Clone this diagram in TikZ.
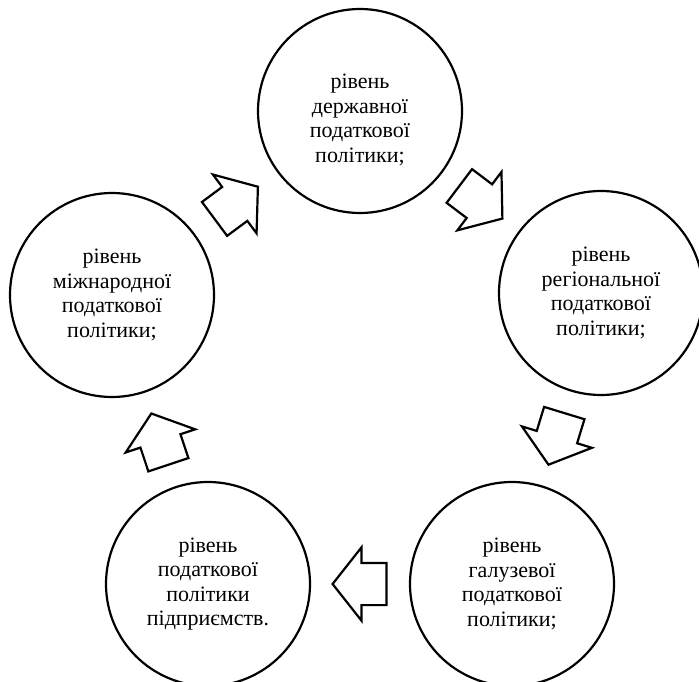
\documentclass[tikz,border=0pt]{standalone}
\usepackage{fontspec}
\setmainfont{Liberation Serif}
\usepackage{tikz}
\usetikzlibrary{shapes,shapes.arrows,calc,positioning}

\begin{document}
\begin{tikzpicture}[x=1pt, y=1pt]
            \tikzstyle{level} = [draw, circle, line width=2.2pt, minimum size=204pt, inner sep=0pt, align=center, font={\fontsize{22}{24.5}\selectfont}]
            \tikzstyle{leveltext} = [align=center, inner sep=0pt, font={\fontsize{22}{24.5}\selectfont}]
            \tikzstyle{blockarrow} = [draw, single arrow, line width=2.2pt, minimum height=54pt, inner xsep=0pt, inner ysep=20pt, single arrow head extend=15.5pt, single arrow tip angle=103.5]

            \clip (0,0) rectangle (699,681);

            \node [level] (derzh) at (360,570) {};
            \node [leveltext] (derzhtext) at ([yshift=-9pt]derzh.center) {рівень\\державної\\податкової\\політики;};
            \node [level] (region) at (601,388) {рівень\\регіональної\\податкової\\політики;};
            \node [level] (galuz) at (512,97) {рівень\\галузевої\\податкової\\політики;};
            \node [level] (pidpr) at (208,97) {рівень\\податкової\\політики\\підприємств.};
            \node [level] (mizhn) at (112,386) {рівень\\міжнародної\\податкової\\політики;};

            \node [blockarrow, rotate=36.6] (a1) at ($(mizhn)!0.474!(derzh)$) {};
            \node [blockarrow, rotate=-37.1] (a2) at ($(derzh)!0.474!(region)$) {};
            \node [blockarrow, rotate=-107] (a3) at ($(region)!0.474!(galuz)$) {};
            \node [blockarrow, rotate=180] (a4) at ($(galuz)!0.474!(pidpr)$) {};
            \node [blockarrow, rotate=108.4] (a5) at ($(pidpr)!0.474!(mizhn)$) {};
\end{tikzpicture}
\end{document}
